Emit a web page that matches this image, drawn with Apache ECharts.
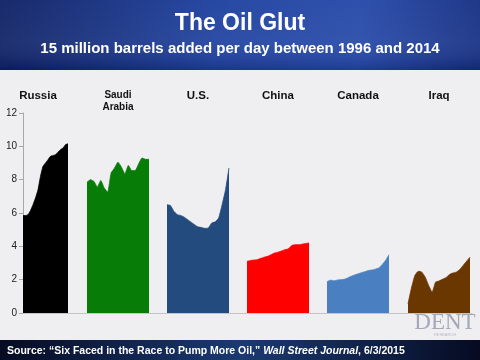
<!DOCTYPE html>
<html><head><meta charset="utf-8">
<script src="https://cdn.jsdelivr.net/npm/echarts@6/dist/echarts.min.js"></script>
<style>html,body{margin:0;padding:0;background:#efeff1}#c{width:480px;height:360px}</style>
</head><body><div id="c"></div>
<script>
const years = ['1996','1997','1998','1999','2000','2001','2002','2003','2004','2005','2006','2007','2008','2009','2010','2011','2012','2013','2014'];
const countries = ['Russia','Saudi\nArabia','U.S.','China','Canada','Iraq'];
const colors = ['#000000','#077d07','#234b7e','#ff0000','#4a80c2','#6b3700'];
const russia = [5.85,5.85,5.9,6.15,6.5,6.9,7.4,8.2,8.8,9.0,9.2,9.4,9.45,9.5,9.65,9.8,9.9,10.1,10.15];
const saudi  = [7.85,8.0,7.9,7.55,7.95,7.5,7.25,8.4,8.7,9.05,8.75,8.35,8.85,8.55,8.55,8.95,9.3,9.22,9.22];
const us     = [6.5,6.45,6.1,5.9,5.85,5.75,5.6,5.45,5.3,5.17,5.13,5.08,5.1,5.4,5.47,5.7,6.5,7.4,8.7];
const china  = [3.1,3.15,3.18,3.2,3.28,3.35,3.4,3.5,3.6,3.65,3.72,3.8,3.85,4.05,4.1,4.1,4.13,4.17,4.2];
const canada = [1.88,1.97,1.93,1.98,2.0,2.02,2.1,2.2,2.28,2.35,2.42,2.48,2.55,2.58,2.63,2.7,2.9,3.15,3.5];
const iraq   = [0.55,1.5,2.25,2.5,2.45,2.15,1.65,1.25,1.85,1.92,2.02,2.12,2.3,2.4,2.45,2.6,2.85,3.1,3.35];
const yTicks = [0,2,4,6,8,10,12];
const allData = [russia,saudi,us,china,canada,iraq];

const chart = echarts.init(document.getElementById('c'), null, {renderer:'canvas'});
const panels = [{left:23,width:45,center:38},{left:87,width:62,center:118},{left:167,width:62,center:198},{left:247,width:62,center:278},{left:327,width:62,center:358},{left:408,width:62,center:439}];
const TOP=113, H=200;
const grids=[], xAxes=[], yAxes=[], series=[];
panels.forEach((p,i)=>{
  grids.push({left:p.left,width:p.width,top:TOP,height:H});
  xAxes.push({type:'category',gridIndex:i,data:years,boundaryGap:false,show:false});
  yAxes.push({type:'value',gridIndex:i,min:yTicks[0],max:yTicks[yTicks.length-1],interval:2,show:i===0,
    axisLine:{show:true,lineStyle:{color:'#a8a8a8'}},axisTick:{show:true,length:4,lineStyle:{color:'#a8a8a8'}},
    axisLabel:{color:'#222',fontSize:10,fontFamily:'Liberation Sans, Arial',margin:6},splitLine:{show:false}});
  series.push({type:'line',xAxisIndex:i,yAxisIndex:i,data:allData[i],symbol:'none',smooth:0.15,
    lineStyle:{width:0.8,color:colors[i]},areaStyle:{color:colors[i],opacity:1},silent:true,z:3});
});
// baseline axis
grids.push({left:23,right:8,top:TOP,height:H});
xAxes.push({type:'category',gridIndex:6,data:years,boundaryGap:false,axisLine:{show:true,lineStyle:{color:'#c4c4c8'}},axisTick:{show:false},axisLabel:{show:false}});
yAxes.push({type:'value',gridIndex:6,min:0,max:12,interval:2,show:false,splitLine:{show:false}});

const graphics = [
  {type:'rect',shape:{x:0,y:0,width:480,height:70},z:-10,style:{fill:new echarts.graphic.LinearGradient(0,0,1,0.3,[{offset:0,color:'#0c1f63'},{offset:0.45,color:'#1c3f9e'},{offset:0.75,color:'#2347a8'},{offset:1,color:'#142e82'}])}},
  {type:'rect',shape:{x:0,y:0,width:480,height:70},z:-9,style:{fill:new echarts.graphic.LinearGradient(0,0,0,1,[{offset:0,color:'rgba(255,255,255,0.05)'},{offset:0.6,color:'rgba(255,255,255,0.08)'},{offset:1,color:'rgba(0,0,40,0.15)'}])}},
  {type:'rect',shape:{x:0,y:340,width:480,height:20},z:-10,style:{fill:new echarts.graphic.LinearGradient(0,0,1,0,[{offset:0,color:'#060b22'},{offset:0.5,color:'#1b3a72'},{offset:1,color:'#060b22'}])}},
  {type:'text',x:240,y:24,z:10,style:{text:'The Oil Glut',fill:'#fff',font:'bold 23px "Liberation Sans", Arial',align:'center',verticalAlign:'middle'}},
  {type:'text',x:240,y:49,z:10,style:{text:'15 million barrels added per day between 1996 and 2014',fill:'#fff',font:'bold 15px "Liberation Sans", Arial',align:'center',verticalAlign:'middle'}},
  {type:'text',x:445,y:323,z:1,style:{text:'DENT',fill:'#a3a7b8',font:'23px "Liberation Serif", "DejaVu Serif", serif',align:'center',verticalAlign:'middle'}},
  {type:'text',x:445,y:335,z:1,style:{text:'RESEARCH',fill:'#b8bbc8',font:'4px "Liberation Sans", Arial',align:'center',verticalAlign:'middle'}},
  {type:'text',x:7,y:351,z:10,style:{
    text:'{a|Source: \u201cSix Faced in the Race to Pump More Oil,\u201d }{b|Wall Street Journal}{a|, 6/3/2015}',
    verticalAlign:'middle',
    rich:{a:{fill:'#fff',font:'bold 10.5px "Liberation Sans", Arial'},b:{fill:'#fff',font:'italic bold 10.5px "Liberation Sans", Arial'}}}}
];
panels.forEach((p,i)=>{
  if(i===1){
    graphics.push({type:'text',x:p.center,y:101,z:10,style:{text:countries[i],fill:'#111',font:'bold 10px "Liberation Sans", Arial',align:'center',verticalAlign:'middle',lineHeight:12}});
  } else {
    graphics.push({type:'text',x:p.center,y:96,z:10,style:{text:countries[i],fill:'#111',font:'bold 11.5px "Liberation Sans", Arial',align:'center',verticalAlign:'middle'}});
  }
});

chart.setOption({
  backgroundColor:'#efeff1',
  animation:false,
  grid:grids, xAxis:xAxes, yAxis:yAxes, series:series,
  graphic:graphics
});
</script></body></html>
